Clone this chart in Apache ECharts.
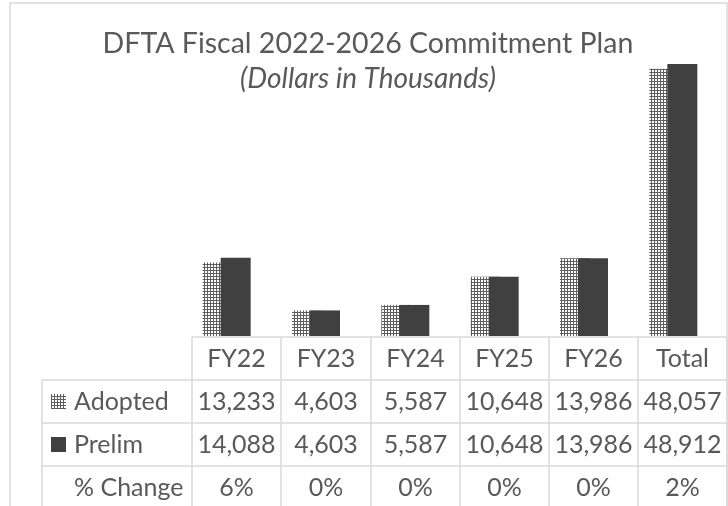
<!DOCTYPE html>
<html>
<head>
<meta charset="utf-8">
<script src="https://cdn.jsdelivr.net/npm/echarts@6/dist/echarts.min.js"></script>
<style>
  html, body { margin: 0; padding: 0; background: #ffffff; }
  #chart { width: 728px; height: 506px; }
</style>
</head>
<body>
<div id="chart"></div>
<script>
/* data */
var categories = ['FY22', 'FY23', 'FY24', 'FY25', 'FY26', 'Total'];
var adopted = [13233, 4603, 5587, 10648, 13986, 48057];
var prelim = [14088, 4603, 5587, 10648, 13986, 48912];
var pctChange = ['6%', '0%', '0%', '0%', '0%', '2%'];
var seriesNames = ['Adopted', 'Prelim'];

var titleText = 'DFTA Fiscal 2022-2026 Commitment Plan';
var subText = '(Dollars in Thousands)';

/* styles */
var textColor = '#595959';
var lineColor = '#d9d9d9';
var darkColor = '#404040';
var fontFam = 'Lato, "Open Sans", sans-serif';

/* dotted pattern for the Adopted bars */
var makePattern = function () {
    var c = document.createElement('canvas');
    c.width = 3; c.height = 3;
    var g = c.getContext('2d');
    g.fillStyle = '#ffffff';
    g.fillRect(0, 0, 3, 3);
    g.fillStyle = '#5e5e5e';
    g.fillRect(0, 0, 3, 1);
    g.fillRect(0, 0, 1, 3);
    return c;
};
var dots = { image: makePattern(), repeat: 'repeat' };

/* table layout */
var colX = [192, 281, 371, 460, 549, 638, 727];
var rowY = [337, 380, 423, 466, 509];
var labelX = 42;

var fmt = function (v) { return v.toLocaleString('en-US'); };

var graphics = [];
// chart border
graphics.push({
    type: 'rect', silent: true,
    shape: { x: 10, y: 3, width: 717, height: 520 },
    style: { fill: null, stroke: lineColor, lineWidth: 1.5 }
});
// title
graphics.push({
    type: 'text', silent: true, x: 368, y: 44,
    style: { text: titleText, align: 'center', verticalAlign: 'middle',
             fontSize: 28.5, fontFamily: fontFam, fill: textColor }
});
graphics.push({
    type: 'text', silent: true, x: 368, y: 79,
    style: { text: subText, align: 'center', verticalAlign: 'middle',
             fontSize: 28, fontStyle: 'italic', fontFamily: fontFam, fill: textColor }
});
// horizontal lines
graphics.push({ type: 'line', silent: true,
    shape: { x1: colX[0], y1: rowY[0], x2: colX[6], y2: rowY[0] },
    style: { stroke: lineColor, lineWidth: 1.5 } });
for (var r = 1; r < rowY.length; r++) {
    graphics.push({ type: 'line', silent: true,
        shape: { x1: labelX, y1: rowY[r], x2: colX[6], y2: rowY[r] },
        style: { stroke: lineColor, lineWidth: 1.5 } });
}
// vertical lines
graphics.push({ type: 'line', silent: true,
    shape: { x1: labelX, y1: rowY[1], x2: labelX, y2: rowY[4] },
    style: { stroke: lineColor, lineWidth: 1.5 } });
for (var c = 0; c < colX.length; c++) {
    graphics.push({ type: 'line', silent: true,
        shape: { x1: colX[c], y1: rowY[0], x2: colX[c], y2: rowY[4] },
        style: { stroke: lineColor, lineWidth: 1.5 } });
}

var cellText = function (txt, x, y, align) {
    graphics.push({
        type: 'text', silent: true, x: x, y: y,
        style: { text: txt, align: align || 'center', verticalAlign: 'middle',
                 fontSize: 25, fontFamily: fontFam, fill: textColor }
    });
};

var rows = [
    { name: seriesNames[0], vals: adopted.map(fmt), key: dots },
    { name: seriesNames[1], vals: prelim.map(fmt), key: darkColor },
    { name: '% Change', vals: pctChange, key: null }
];

for (var i = 0; i < categories.length; i++) {
    var cx = (colX[i] + colX[i + 1]) / 2;
    cellText(categories[i], cx, (rowY[0] + rowY[1]) / 2);
    for (var k = 0; k < rows.length; k++) {
        cellText(rows[k].vals[i], cx, (rowY[k + 1] + rowY[k + 2]) / 2);
    }
}
for (var k = 0; k < rows.length; k++) {
    var my = (rowY[k + 1] + rowY[k + 2]) / 2;
    cellText(rows[k].name, 74, my, 'left');
    if (rows[k].key) {
        graphics.push({ type: 'rect', silent: true,
            shape: { x: 51, y: my - 7.5, width: 15, height: 15 },
            style: { fill: rows[k].key } });
    }
}

/* chart */
var myChart = echarts.init(document.getElementById('chart'), null, { renderer: 'canvas' });
var option = {
    backgroundColor: '#ffffff',
    animation: false,
    grid: { left: 182, right: 10, top: 58, bottom: 170 },
    xAxis: {
        type: 'category',
        data: categories,
        show: false
    },
    yAxis: {
        type: 'value',
        min: 0,
        max: 50000,
        show: false
    },
    series: [
        {
            name: seriesNames[0],
            type: 'bar',
            data: adopted,
            barWidth: 30,
            barGap: '-40%',
            itemStyle: { color: dots }
        },
        {
            name: seriesNames[1],
            type: 'bar',
            data: prelim,
            barWidth: 30,
            itemStyle: { color: darkColor }
        }
    ],
    graphic: graphics
};
myChart.setOption(option);
</script>
</body>
</html>
